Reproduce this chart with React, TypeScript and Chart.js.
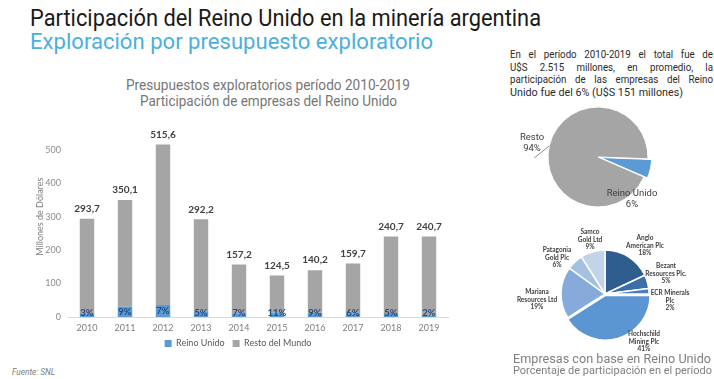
import React, { useEffect, useLayoutEffect, useRef } from 'react';
import { Chart, registerables } from 'chart.js';

Chart.register(...registerables);

// ---------- data ----------
const years = ['2010', '2011', '2012', '2013', '2014', '2015', '2016', '2017', '2018', '2019'];
const ukValues = [8.8, 31.5, 36.1, 14.6, 11.0, 13.7, 12.6, 9.6, 12.0, 4.8];
const restValues = [284.9, 318.6, 479.5, 277.6, 146.2, 110.8, 127.6, 150.1, 228.7, 235.9];
const totalLabels = ['293,7', '350,1', '515,6', '292,2', '157,2', '124,5', '140,2', '159,7', '240,7', '240,7'];
const ukShareLabels = ['3%', '9%', '7%', '5%', '7%', '11%', '9%', '6%', '5%', '2%'];
const seriesNames = ['Reino Unido', 'Resto del Mundo'];

const summaryNames = ['Reino Unido', 'Resto'];
const summaryValues = [6, 94];
const summaryLabels = ['6%', '94%'];

const companyNames = [
  'Anglo American Plc',
  'Bezant Resources Plc.',
  'ECR Minerals Plc',
  'Hochschild Mining Plc',
  'Mariana Resources Ltd',
  'Patagonia Gold Plc',
  'Samco Gold Ltd',
];
const companyShares = [18, 5, 2, 41, 19, 6, 9];
const companyLabelLines = [
  ['Anglo', 'American Plc', '18%'],
  ['Bezant', 'Resources Plc.', '5%'],
  ['ECR Minerals', 'Plc', '2%'],
  ['Hochschild', 'Mining Plc', '41%'],
  ['Mariana', 'Resources Ltd', '19%'],
  ['Patagonia', 'Gold Plc', '6%'],
  ['Samco', 'Gold Ltd', '9%'],
];

// ---------- styles / layout ----------
const BLUE = '#5b9bd5';
const GREY = '#a5a5a5';
const companyColors = ['#2f5d90', '#3c6ea8', '#4a7dbf', '#5b96d3', '#86abda', '#a6c0e2', '#c2d3ea'];
const companyOffsets = [0, 0, 0, 6, 0, 0, 0];
const companyLabelPos = [
  [645, 238],
  [666, 266],
  [670, 293],
  [644, 334],
  [537, 292],
  [557, 250],
  [590, 232],
];

Chart.defaults.font.family = 'Lato, "DejaVu Sans", sans-serif';

type FitProps = {
  text: string;
  left: number;
  baseline: number;
  width: number;
  size: number;
  color: string;
  weight?: number;
  italic?: boolean;
};

function FitText({ text, left, baseline, width, size, color, weight = 400, italic = false }: FitProps) {
  const ref = useRef<HTMLDivElement>(null);
  useLayoutEffect(() => {
    const el = ref.current;
    if (!el) return;
    const fit = () => {
      el.style.transform = 'none';
      const w = el.getBoundingClientRect().width;
      if (w > 0) el.style.transform = `scaleX(${width / w})`;
    };
    fit();
    if ((document as any).fonts && (document as any).fonts.ready) (document as any).fonts.ready.then(fit);
  }, [text, width]);
  const top = baseline - 0.842 * size;
  return (
    <div
      ref={ref}
      style={{
        position: 'absolute',
        left,
        top,
        fontSize: size,
        lineHeight: `${size}px`,
        whiteSpace: 'nowrap',
        transformOrigin: '0 0',
        color,
        fontWeight: weight,
        fontStyle: italic ? 'italic' : 'normal',
        fontFamily: 'Roboto, sans-serif',
      }}
    >
      {text}
    </div>
  );
}

function JustLine({ text, left, baseline, width, size, color, scale }: { text: string; left: number; baseline: number; width: number; size: number; color: string; scale: number }) {
  const top = baseline - 0.842 * size;
  return (
    <div
      style={{
        position: 'absolute',
        left,
        top,
        width: width / scale,
        fontSize: size,
        lineHeight: `${size}px`,
        whiteSpace: 'nowrap',
        textAlign: 'justify',
        textAlignLast: 'justify' as any,
        transform: `scaleX(${scale})`,
        transformOrigin: '0 0',
        color,
        fontFamily: 'Roboto, sans-serif',
      }}
    >
      {text}
    </div>
  );
}

function BarChart() {
  const ref = useRef<HTMLCanvasElement>(null);
  useEffect(() => {
    const labelPlugin = {
      id: 'barLabels',
      afterDatasetsDraw(chart: any) {
        const ctx = chart.ctx;
        const ukMeta = chart.getDatasetMeta(0);
        const restMeta = chart.getDatasetMeta(1);
        ctx.save();
        ctx.textAlign = 'center';
        ctx.textBaseline = 'middle';
        restMeta.data.forEach((bar: any, i: number) => {
          ctx.font = 'bold 10px Lato';
          ctx.fillStyle = '#404040';
          ctx.fillText(totalLabels[i], bar.x, bar.y - 10);
        });
        ukMeta.data.forEach((bar: any, i: number) => {
          const p = bar.getProps(['x', 'y', 'base'], true);
          const cy = Math.min((p.y + p.base) / 2, p.base - 4);
          ctx.font = 'bold 9.5px Lato';
          ctx.fillStyle = '#27497a';
          ctx.fillText(ukShareLabels[i], p.x, cy);
        });
        ctx.restore();
      },
    };
    const chart = new Chart(ref.current as HTMLCanvasElement, {
      type: 'bar',
      data: {
        labels: years,
        datasets: [
          { label: seriesNames[0], data: ukValues, backgroundColor: BLUE, barPercentage: 0.38, categoryPercentage: 1 },
          { label: seriesNames[1], data: restValues, backgroundColor: GREY, barPercentage: 0.38, categoryPercentage: 1 },
        ],
      },
      options: {
        responsive: false,
        animation: false,
        layout: { padding: { top: 8, right: 4, left: 0, bottom: 0 } },
        plugins: {
          tooltip: { enabled: false },
          legend: {
            position: 'bottom',
            labels: { boxWidth: 7, boxHeight: 7, padding: 8, color: '#595959', font: { size: 9 } },
          },
        },
        scales: {
          x: {
            stacked: true,
            grid: { display: false, drawTicks: false },
            border: { display: true, color: '#d9d9d9', width: 1 },
            ticks: { color: '#7f7f7f', font: { size: 9 }, padding: 6 },
            afterFit: (s: any) => {
              s.height = 14;
            },
          },
          y: {
            stacked: true,
            min: 0,
            max: 600,
            grid: { display: false, drawTicks: false },
            border: { display: false },
            ticks: {
              stepSize: 100,
              color: '#8c8c8c',
              font: { size: 9 },
              padding: 7,
              callback: (v: any) => (Number(v) > 500 ? '' : String(v)),
            },
            title: { display: true, text: 'Millones de Dólares', color: '#7f7f7f', font: { size: 9 }, padding: { top: 7, bottom: 0 } },
            afterFit: (s: any) => {
              s.width = 40;
            },
          },
        },
      } as any,
      plugins: [labelPlugin],
    });
    return () => chart.destroy();
  }, []);
  return <canvas ref={ref} width={424} height={254} style={{ position: 'absolute', left: 28, top: 104, width: 424, height: 254 }} />;
}

function SummaryPie() {
  const ref = useRef<HTMLCanvasElement>(null);
  useEffect(() => {
    const leader = {
      id: 'leader',
      afterDatasetsDraw(chart: any) {
        const arc = chart.getDatasetMeta(0).data[1];
        const p = arc.getProps(['x', 'y', 'startAngle', 'endAngle', 'outerRadius'], true);
        const mid = (p.startAngle + p.endAngle) / 2;
        const ex = p.x + Math.cos(mid) * p.outerRadius;
        const ey = p.y + Math.sin(mid) * p.outerRadius;
        const ctx = chart.ctx;
        ctx.save();
        ctx.strokeStyle = '#8c8c8c';
        ctx.lineWidth = 1;
        ctx.beginPath();
        ctx.moveTo(ex, ey);
        ctx.lineTo(ex - 15, ey + 12);
        ctx.stroke();
        ctx.restore();
      },
    };
    const chart = new Chart(ref.current as HTMLCanvasElement, {
      type: 'pie',
      data: {
        labels: summaryNames,
        datasets: [
          {
            data: summaryValues,
            backgroundColor: [BLUE, GREY],
            borderColor: '#ffffff',
            borderWidth: 1,
            offset: [9, 0],
            radius: 50,
          },
        ],
      },
      options: {
        responsive: false,
        animation: false,
        rotation: 92,
        radius: 50,
        layout: { padding: 0 },
        plugins: { legend: { display: false }, tooltip: { enabled: false } },
      } as any,
      plugins: [leader],
    });
    return () => chart.destroy();
  }, []);
  return <canvas ref={ref} width={180} height={140} style={{ position: 'absolute', left: 508, top: 87, width: 180, height: 140 }} />;
}

function CompanyPie() {
  const ref = useRef<HTMLCanvasElement>(null);
  useEffect(() => {
    const chart = new Chart(ref.current as HTMLCanvasElement, {
      type: 'pie',
      data: {
        labels: companyNames,
        datasets: [
          {
            data: companyShares,
            backgroundColor: companyColors,
            borderColor: '#ffffff',
            borderWidth: 1.5,
            offset: companyOffsets,
            radius: 44,
          },
        ],
      },
      options: {
        responsive: false,
        animation: false,
        rotation: 0,
        radius: 44,
        layout: { padding: 0 },
        plugins: { legend: { display: false }, tooltip: { enabled: false } },
      } as any,
    });
    return () => chart.destroy();
  }, []);
  return <canvas ref={ref} width={120} height={120} style={{ position: 'absolute', left: 545, top: 234, width: 120, height: 120 }} />;
}

function SmallLabel({ lines, x, y, size, lh, color, bold }: { lines: string[]; x: number; y: number; size: number; lh: number; color: string; bold?: boolean }) {
  return (
    <div
      style={{
        position: 'absolute',
        left: x - 40,
        top: y - lh / 2,
        width: 80,
        textAlign: 'center',
        fontSize: size,
        lineHeight: `${lh}px`,
        color,
        fontWeight: bold ? 700 : 400,
        fontFamily: bold ? 'Lato, sans-serif' : 'Roboto, sans-serif',
        whiteSpace: 'nowrap',
      }}
    >
      {lines.map((l, i) => (
        <div key={i}>{l}</div>
      ))}
    </div>
  );
}

export default function App() {
  return (
    <div style={{ position: 'absolute', left: 0, top: 0, width: 714, height: 379, background: '#ffffff', overflow: 'hidden' }}>
      <FitText text="Participación del Reino Unido en la minería argentina" left={30} baseline={26.8} width={511} size={24.4} color="#1a1a1a" />
      <FitText text="Exploración por presupuesto exploratorio" left={30} baseline={50} width={403} size={22} color="#4bb0dd" />

      <FitText text="Presupuestos exploratorios período 2010-2019" left={126} baseline={89.3} width={284} size={14} color="#767676" />
      <FitText text="Participación de empresas del Reino Unido" left={139.5} baseline={106} width={257} size={14} color="#767676" />

      <BarChart />

      <FitText text="Fuente: SNL" left={12} baseline={375.5} width={43} size={9} color="#7a7a7a" italic />

      <JustLine text="En el período 2010-2019 el total fue de" left={510} baseline={59.3} width={203} size={10.8} color="#2b2b2b" scale={0.9} />
      <JustLine text="U$S 2.515 millones, en promedio, la" left={510} baseline={71.7} width={203} size={10.8} color="#2b2b2b" scale={0.9} />
      <JustLine text="participación de las empresas del Reino" left={510} baseline={84.2} width={203} size={10.8} color="#2b2b2b" scale={0.9} />
      <FitText text="Unido fue del 6% (U$S 151 millones)" left={510} baseline={96.7} width={173} size={10.8} color="#2b2b2b" />

      <SummaryPie />
      <SmallLabel lines={[summaryNames[1], summaryLabels[1]]} x={532} y={137.5} size={9.5} lh={10.5} color="#404040" />
      <SmallLabel lines={[summaryNames[0], summaryLabels[0]]} x={632} y={193.5} size={9.5} lh={10.5} color="#404040" />

      <CompanyPie />
      {companyLabelLines.map((lines, i) => (
        <SmallLabel key={i} lines={lines} x={companyLabelPos[i][0]} y={companyLabelPos[i][1]} size={6.5} lh={7.4} color="#404040" bold />
      ))}

      <FitText text="Empresas con base en Reino Unido" left={513} baseline={363.3} width={198} size={12} color="#7f7f7f" />
      <FitText text="Porcentaje de participación en el período" left={513} baseline={375} width={199} size={10.3} color="#7f7f7f" />
    </div>
  );
}
